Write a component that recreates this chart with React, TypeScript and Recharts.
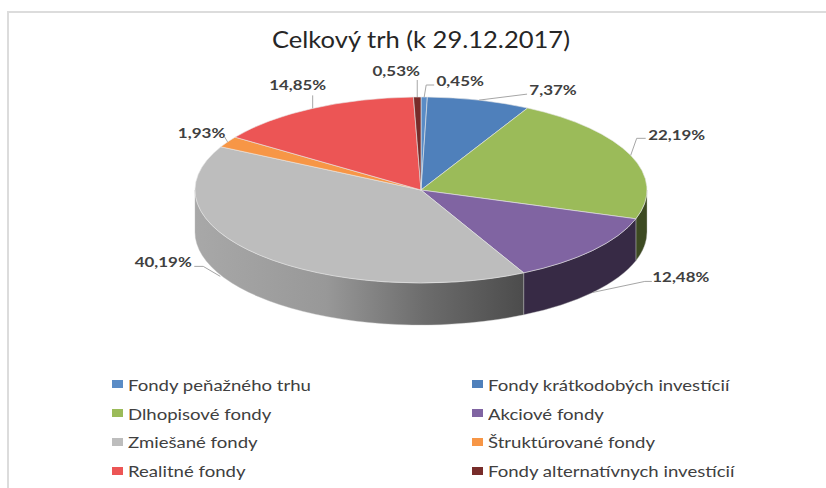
import { PieChart, Pie, Cell, Legend } from 'recharts'

const NAMES = [
  'Fondy peňažného trhu',
  'Fondy krátkodobých investícií',
  'Dlhopisové fondy',
  'Akciové fondy',
  'Zmiešané fondy',
  'Štruktúrované fondy',
  'Realitné fondy',
  'Fondy alternatívnych investícií',
]
const SHARES = [0.45, 7.37, 22.19, 12.48, 40.19, 1.93, 14.85, 0.53]
const COLORS = ['#5a8cc6', '#4f80bb', '#9bbb59', '#8064a2', '#bdbdbd', '#f79646', '#ec5555', '#772c2a']
const SIDE_COLORS = ['#2c4a6e', '#2c4a6e', '#3d4a22', '#372a45', 'url(#graySide)', '#8a5020', '#8a2f2f', '#401717']

const chartData = NAMES.map((name, i) => ({ name, value: SHARES[i] }))

const W = 826
const H = 488
const CX = 421
const CY = 190
const RX = 226
const RY = 93
const DEPTH = 42

// text centre and leader bends, relative to the slice's point on the rim
const LABEL_LAYOUT: { text: [number, number]; line: [number, number][] }[] = [
  { text: [36, -16], line: [[0, 0], [2, -12], [10, -12]] },
  { text: [74, -10], line: [[0, 0], [48, -6]] },
  { text: [46, -20], line: [[0, 0], [6, -17], [15, -17]] },
  { text: [88, -15], line: [[0, 0], [52, -11], [59, -11]] },
  { text: [-97, -35], line: [[-40, -21], [-57, -31], [-66, -31]] },
  { text: [-26, -9], line: [[0, 0], [-3, -5]] },
  { text: [-15, -23], line: [[0, 0], [0, -13]] },
  { text: [-21, -26], line: [[0, 0], [0, -17]] },
]
// the 12,48 % and 40,19 % leaders start on the lower rim of the wall
const ON_WALL = [3, 4]

const rimPoint = (angle: number) => {
  const rad = (angle * Math.PI) / 180
  return { x: CX + RX * Math.cos(rad), y: CY - RY * Math.sin(rad) }
}

function EllipseSlice(props: any) {
  const { startAngle, endAngle, fill, index } = props
  // the wall only shows on the front half of the ellipse
  const s = ((startAngle % 360) + 360) % 360
  const e = s - (startAngle - endAngle)
  const walls: string[] = []
  for (const k of [0, 360]) {
    const lo = Math.max(e, k - 180)
    const hi = Math.min(s, k)
    if (lo < hi) {
      const a = rimPoint(hi)
      const b = rimPoint(lo)
      walls.push(
        `M${a.x},${a.y}A${RX},${RY} 0 0 1 ${b.x},${b.y}L${b.x},${b.y + DEPTH}A${RX},${RY} 0 0 0 ${a.x},${a.y + DEPTH}Z`,
      )
    }
  }
  const a = rimPoint(startAngle)
  const b = rimPoint(endAngle)
  const large = startAngle - endAngle > 180 ? 1 : 0
  const top = `M${CX},${CY}L${a.x},${a.y}A${RX},${RY} 0 ${large} 1 ${b.x},${b.y}Z`
  return (
    <g>
      {walls.map((d, i) => (
        <path key={i} d={d} fill={SIDE_COLORS[index]} stroke="#bbbbbb" strokeWidth={0.4} />
      ))}
      <path d={top} fill={fill} stroke="#e8e8e8" strokeWidth={0.6} />
    </g>
  )
}

function SliceLabel(props: any) {
  const { midAngle, index } = props
  const rim = rimPoint(midAngle)
  const y0 = rim.y + (ON_WALL.includes(index) ? DEPTH : 0)
  const layout = LABEL_LAYOUT[index]
  const text = SHARES[index].toFixed(2).replace('.', ',') + '%'
  const pts = layout.line.map(([dx, dy]) => `${rim.x + dx},${y0 + dy}`).join(' ')
  return (
    <g>
      <polyline points={pts} fill="none" stroke="#a6a6a6" strokeWidth={1} />
      <text
        x={rim.x + layout.text[0]}
        y={y0 + layout.text[1]}
        textAnchor="middle"
        dominantBaseline="central"
        fontFamily="Lato"
        fontWeight={700}
        fontSize={13}
        fill="#404040"
        textLength={text.length * 9.5}
        lengthAdjust="spacingAndGlyphs"
      >
        {text}
      </text>
    </g>
  )
}

function LegendGrid({ payload }: any) {
  return (
    <div style={{ display: 'grid', gridTemplateColumns: '360px 360px', gridAutoRows: '28.8px' }}>
      {(payload ?? []).map((entry: any) => (
        <div key={entry.value} style={{ display: 'flex', alignItems: 'center' }}>
          <span style={{ width: 11, height: 8, background: entry.color, marginRight: 5, flex: 'none' }} />
          <span
            style={{
              fontFamily: 'Lato',
              fontSize: 16,
              color: '#404040',
              whiteSpace: 'nowrap',
              transform: 'scaleX(1.16)',
              transformOrigin: 'left center',
            }}
          >
            {entry.value}
          </span>
        </div>
      ))}
    </div>
  )
}

export default function App() {
  return (
    <div style={{ position: 'absolute', left: 0, top: 0, width: W, height: H, background: '#fff', overflow: 'hidden' }}>
      <div
        style={{
          position: 'absolute',
          left: 7,
          top: 11,
          width: 900,
          height: 600,
          border: '2px solid #dcdcdc',
        }}
      />
      <PieChart width={W} height={H} style={{ position: 'absolute', left: 0, top: 0 }}>
        <defs>
          <linearGradient id="graySide" gradientUnits="userSpaceOnUse" x1={CX - RX} y1={0} x2={CX + 102} y2={0}>
            <stop offset="0%" stopColor="#a8a8a8" />
            <stop offset="40%" stopColor="#989898" />
            <stop offset="70%" stopColor="#6c6c6c" />
            <stop offset="100%" stopColor="#4c4c4c" />
          </linearGradient>
        </defs>
        <text
          x={421}
          y={39}
          textAnchor="middle"
          dominantBaseline="central"
          fontFamily="Lato"
          fontSize={23}
          fill="#262626"
          textLength={298}
          lengthAdjust="spacingAndGlyphs"
        >
          Celkový trh (k 29.12.2017)
        </text>
        <Pie
          data={chartData}
          dataKey="value"
          nameKey="name"
          cx={CX}
          cy={CY}
          outerRadius={RX}
          startAngle={90}
          endAngle={-270}
          paddingAngle={0}
          isAnimationActive={false}
          shape={EllipseSlice}
          label={SliceLabel}
          labelLine={false}
        >
          {chartData.map((_, i) => (
            <Cell key={i} fill={COLORS[i]} />
          ))}
        </Pie>
        <Legend
          content={LegendGrid}
          itemSorter={null}
          wrapperStyle={{ left: 112, top: 370, width: 720, bottom: 'auto' }}
        />
      </PieChart>
    </div>
  )
}
